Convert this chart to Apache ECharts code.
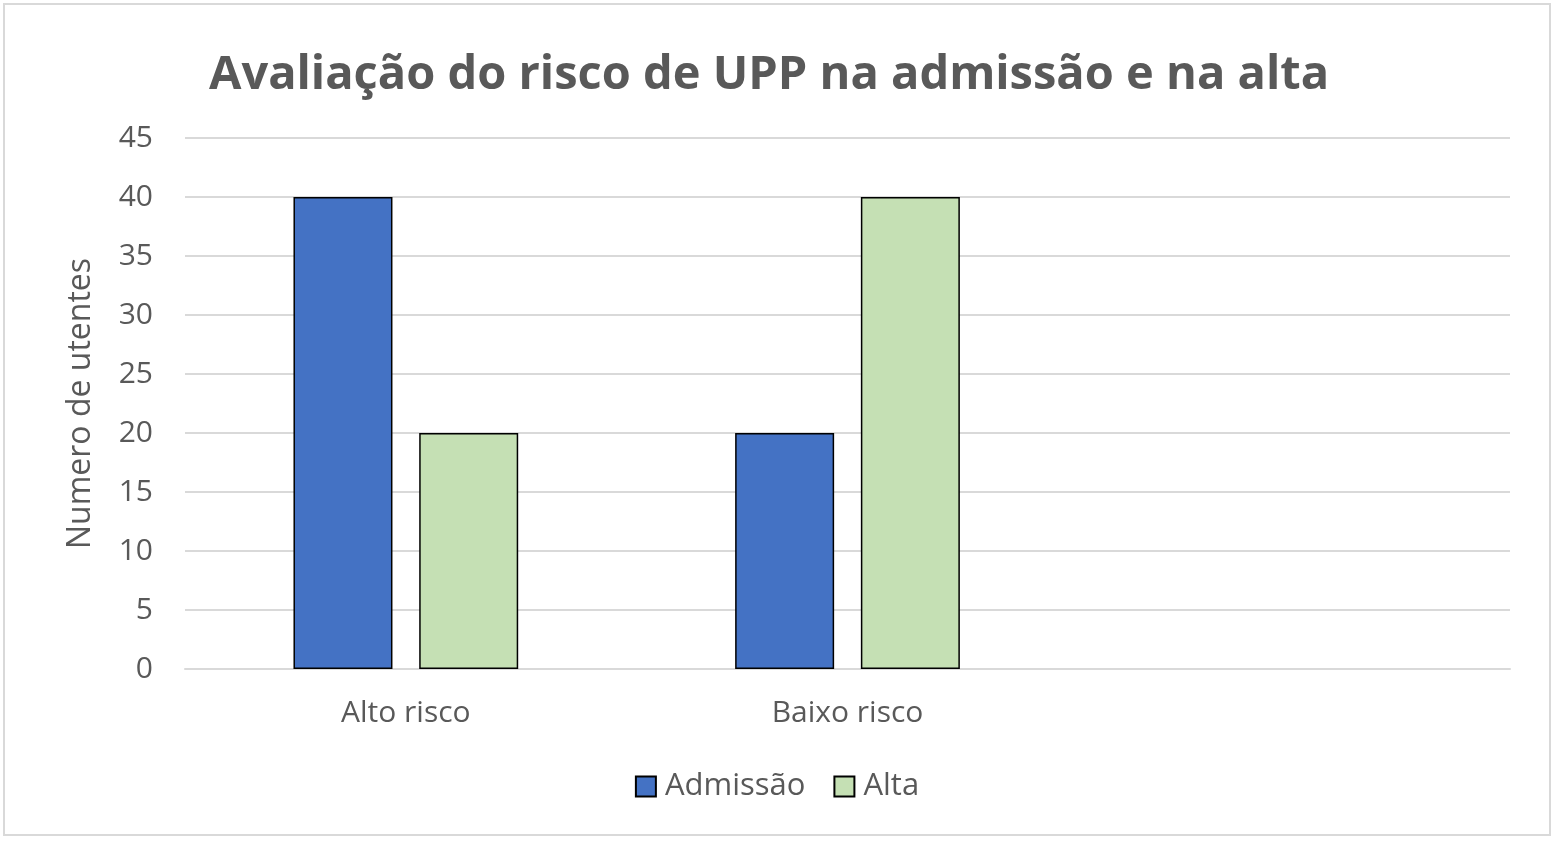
<!DOCTYPE html>
<html>
<head>
<meta charset="utf-8">
<script src="https://cdn.jsdelivr.net/npm/echarts@6/dist/echarts.min.js"></script>
<style>
  html, body { margin: 0; padding: 0; background: #fff; }
  #chart { position: absolute; left: 3px; top: 3px; width: 1548px; height: 833px;
           border: 2px solid #d9d9d9; box-sizing: border-box; }
</style>
</head>
<body>
<div id="chart"></div>
<script>
const categories = ['Alto risco', 'Baixo risco', '']
const admissao = [40, 20, null]
const alta = [20, 40, null]
const yTicks = {min: 0, max: 45, interval: 5}

const myChart = echarts.init(document.getElementById('chart'))
const font = '"Open Sans", "Noto Sans", sans-serif'
myChart.setOption({
    animation: false,
    title: {
        text: 'Avaliação do risco de UPP na admissão e na alta',
        left: 759,
        textAlign: 'center',
        top: 42,
        textStyle: {fontFamily: font, fontSize: 47, fontWeight: 'bold', color: '#595959'}
    },
    legend: {
        bottom: 27,
        left: 'center',
        icon: 'rect',
        itemWidth: 20,
        itemHeight: 20,
        itemGap: 28,
        textStyle: {fontFamily: font, fontSize: 31, color: '#595959', padding: [0, 0, 0, 4]},
        data: ['Admissão', 'Alta']
    },
    grid: {left: 180, right: 39, top: 133, bottom: 165, containLabel: false},
    xAxis: {
        type: 'category',
        data: categories,
        axisLine: {lineStyle: {color: '#d9d9d9', width: 2}},
        axisTick: {show: false},
        axisLabel: {fontFamily: font, fontSize: 30, color: '#595959', margin: 29}
    },
    yAxis: {
        type: 'value',
        min: yTicks.min,
        max: yTicks.max,
        interval: yTicks.interval,
        name: 'Numero de utentes',
        nameLocation: 'middle',
        nameGap: 88,
        nameTextStyle: {fontFamily: font, fontSize: 32, color: '#595959'},
        axisLine: {show: false},
        axisTick: {show: false},
        axisLabel: {fontFamily: font, fontSize: 30, color: '#595959', margin: 32},
        splitLine: {lineStyle: {color: '#d9d9d9', width: 2}}
    },
    series: [
        {
            name: 'Admissão',
            type: 'bar',
            data: admissao,
            barWidth: 99,
            barGap: '27%',
            itemStyle: {color: '#4472C4', borderColor: '#000', borderWidth: 1.5}
        },
        {
            name: 'Alta',
            type: 'bar',
            data: alta,
            barWidth: 99,
            itemStyle: {color: '#C5E0B4', borderColor: '#000', borderWidth: 1.5}
        }
    ]
})
</script>
</body>
</html>
